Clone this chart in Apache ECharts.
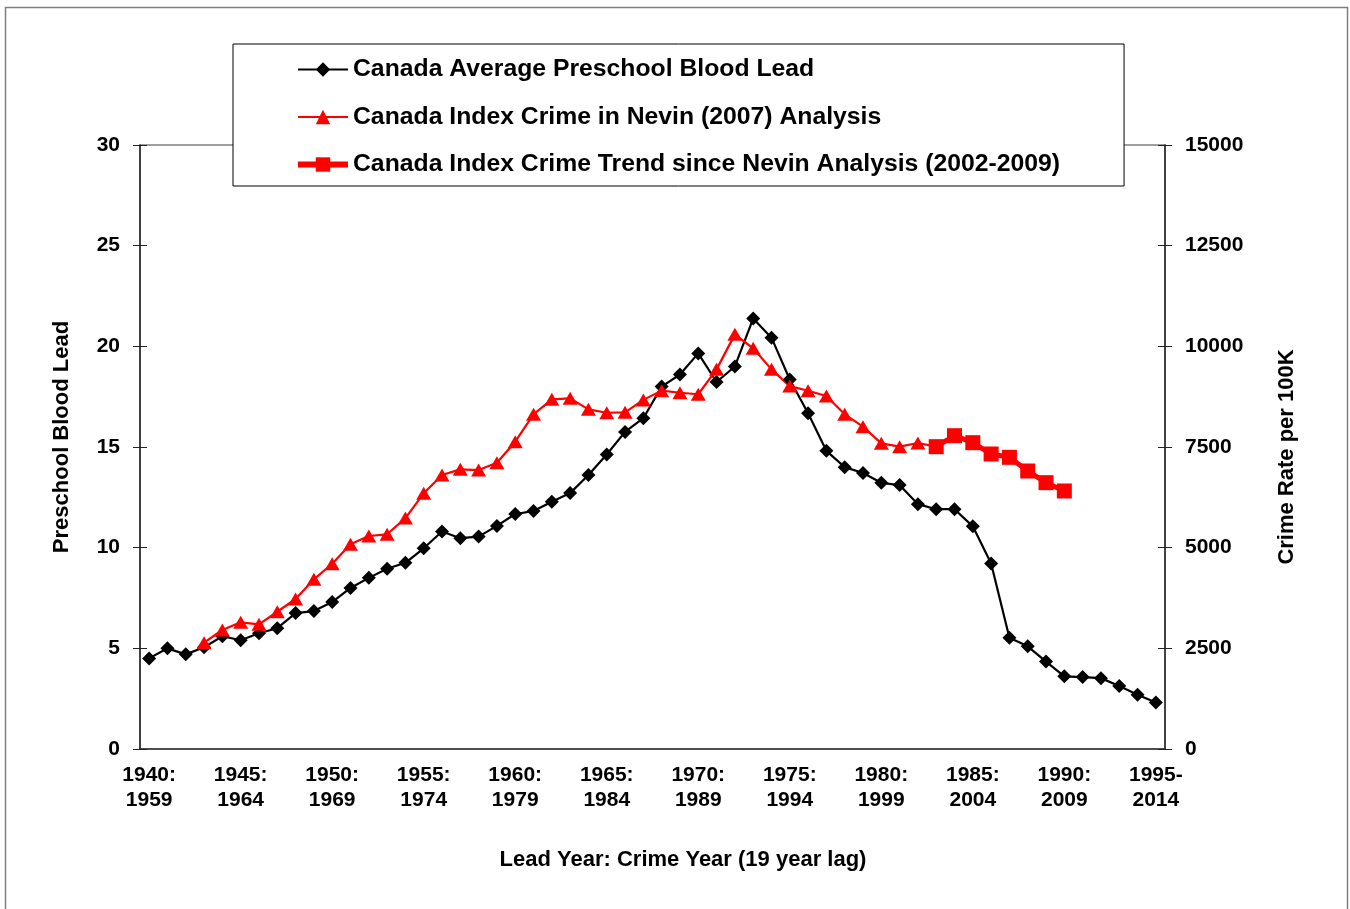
<!DOCTYPE html>
<html>
<head>
<meta charset="utf-8">
<script src="https://cdn.jsdelivr.net/npm/echarts@6/dist/echarts.min.js"></script>
<style>
  html, body { margin: 0; padding: 0; background: #fff; }
  #chart { width: 1350px; height: 909px; }
</style>
</head>
<body>
<div id="chart"></div>
<script>
// lead year (crime year = lead year + 19)
const leadYears = [
  1940, 1941, 1942, 1943, 1944, 1945, 1946, 1947, 1948, 1949,
  1950, 1951, 1952, 1953, 1954, 1955, 1956, 1957, 1958, 1959,
  1960, 1961, 1962, 1963, 1964, 1965, 1966, 1967, 1968, 1969,
  1970, 1971, 1972, 1973, 1974, 1975, 1976, 1977, 1978, 1979,
  1980, 1981, 1982, 1983, 1984, 1985, 1986, 1987, 1988, 1989,
  1990, 1991, 1992, 1993, 1994, 1995
]
// x tick labels, one per 5 years
const tickLabels = {
  1940: '1940:\n1959', 1945: '1945:\n1964', 1950: '1950:\n1969', 1955: '1955:\n1974',
  1960: '1960:\n1979', 1965: '1965:\n1984', 1970: '1970:\n1989', 1975: '1975:\n1994',
  1980: '1980:\n1999', 1985: '1985:\n2004', 1990: '1990:\n2009', 1995: '1995-\n2014'
}
// preschool blood lead (left axis)
const bloodLead = [
  4.5, 5.0, 4.7, 5.05, 5.6, 5.4, 5.75, 6.0, 6.75, 6.85,
  7.3, 8.0, 8.5, 8.95, 9.25, 9.97, 10.8, 10.47, 10.55, 11.08,
  11.67, 11.82, 12.28, 12.71, 13.61, 14.63, 15.75, 16.43, 18.0, 18.6,
  19.65, 18.23, 19.0, 21.38, 20.43, 18.35, 16.68, 14.81, 14.0, 13.71,
  13.22, 13.11, 12.16, 11.91, 11.91, 11.06, 9.21, 5.53, 5.1, 4.34,
  3.61, 3.57, 3.52, 3.13, 2.7, 2.31
]
// index crime, Nevin (2007) analysis, lead years 1943-1982 (right axis)
const crimeNevin = [
  2640, 2955, 3146, 3096, 3409, 3725, 4214,
  4600, 5083, 5290, 5332, 5735, 6349, 6804, 6945, 6928, 7110,
  7631, 8311, 8683, 8708, 8435, 8351, 8360, 8670, 8900, 8847,
  8810, 9428, 10297, 9950, 9428, 9013, 8897, 8765, 8311, 8005,
  7591, 7508, 7600
]
// index crime trend since Nevin analysis, lead years 1983-1990
const crimeTrend = [7508, 7781, 7607, 7326, 7244, 6904, 6614, 6408]

const nevinStart = 1943
const trendStart = 1983

const FONT = 'Liberation Sans'

// build full-length arrays on the category axis
const nevinData = leadYears.map(y => {
  const i = y - nevinStart
  if (i >= 0 && i < crimeNevin.length) return crimeNevin[i]
  // line runs on to the first trend point, without a marker
  if (y === trendStart) return { value: crimeTrend[0], symbol: 'none' }
  return null
})
const trendData = leadYears.map(y => {
  const i = y - trendStart
  return i >= 0 && i < crimeTrend.length ? crimeTrend[i] : null
})

const chart = echarts.init(document.getElementById('chart'))

const labelStyle = { color: '#000', fontFamily: FONT, fontWeight: 'bold', fontSize: 21 }

chart.setOption({
  animation: false,
  backgroundColor: '#fff',
  grid: {
    left: 140, right: 185, top: 145, bottom: 160,
    show: true, borderColor: '#808080', borderWidth: 1.5
  },
  legend: {
    orient: 'vertical',
    left: 233,
    top: 44,
    padding: [13, 64, 9, 62],
    itemWidth: 50,
    itemHeight: 18,
    itemGap: 22.5,
    backgroundColor: '#fff',
    borderColor: '#000',
    borderWidth: 1,
    textStyle: { color: '#000', fontFamily: FONT, fontWeight: 'bold', fontSize: 24.75, lineHeight: 25 },
    data: [
      { name: 'Canada Average Preschool Blood Lead', lineStyle: { width: 2.2 } },
      { name: 'Canada Index Crime in Nevin (2007) Analysis', lineStyle: { width: 2.2 } },
      { name: 'Canada Index Crime Trend since Nevin Analysis (2002-2009)', lineStyle: { width: 6 } }
    ]
  },
  xAxis: [
    {
      type: 'category',
      data: leadYears,
      boundaryGap: true,
      axisLine: { lineStyle: { color: '#333', width: 1.5 } },
      axisTick: { interval: 4, length: 6, lineStyle: { color: '#333' } },
      axisLabel: Object.assign({
        interval: 4,
        margin: 14,
        lineHeight: 25,
        formatter: v => tickLabels[v] || ''
      }, labelStyle)
    },
    {
      // inner half of the crossing ticks
      type: 'category',
      data: leadYears,
      boundaryGap: true,
      position: 'bottom',
      axisLine: { show: false },
      axisTick: { inside: true, interval: 4, length: 6, lineStyle: { color: '#333' } },
      axisLabel: { show: false }
    }
  ],
  yAxis: [
    {
      type: 'value',
      position: 'left',
      min: 0, max: 30, interval: 5,
      splitLine: { show: false },
      axisLine: { show: true, lineStyle: { color: '#222', width: 1.5 } },
      axisTick: { show: true, length: 7, lineStyle: { color: '#222' } },
      axisLabel: Object.assign({ margin: 20 }, labelStyle)
    },
    {
      type: 'value',
      position: 'right',
      min: 0, max: 15000, interval: 2500,
      splitLine: { show: false },
      axisLine: { show: true, lineStyle: { color: '#222', width: 1.5 } },
      axisTick: { show: true, length: 7, lineStyle: { color: '#222' } },
      axisLabel: Object.assign({ margin: 20, formatter: v => String(v) }, labelStyle)
    },
    {
      type: 'value',
      position: 'left',
      min: 0, max: 30, interval: 5,
      splitLine: { show: false },
      axisLine: { show: false },
      axisTick: { show: true, inside: true, length: 7, lineStyle: { color: '#222' } },
      axisLabel: { show: false }
    },
    {
      type: 'value',
      position: 'right',
      min: 0, max: 15000, interval: 2500,
      splitLine: { show: false },
      axisLine: { show: false },
      axisTick: { show: true, inside: true, length: 7, lineStyle: { color: '#222' } },
      axisLabel: { show: false }
    }
  ],
  graphic: [
    {
      type: 'rect',
      shape: { x: 5.5, y: 7.5, width: 1342, height: 930 },
      style: { fill: 'none', stroke: '#7f7f7f', lineWidth: 1.5 },
      z: 0
    },
    {
      type: 'text',
      x: 683, y: 860,
      style: {
        text: 'Lead Year: Crime Year (19 year lag)',
        font: 'bold 22px "Liberation Sans"',
        fill: '#000', textAlign: 'center', textVerticalAlign: 'middle'
      }
    },
    {
      type: 'text',
      x: 62, y: 437,
      rotation: Math.PI / 2,
      style: {
        text: 'Preschool Blood Lead',
        font: 'bold 22px "Liberation Sans"',
        fill: '#000', textAlign: 'center', textVerticalAlign: 'middle'
      }
    },
    {
      type: 'text',
      x: 1287, y: 457,
      rotation: Math.PI / 2,
      style: {
        text: 'Crime Rate per 100K',
        font: 'bold 22px "Liberation Sans"',
        fill: '#000', textAlign: 'center', textVerticalAlign: 'middle'
      }
    }
  ],
  series: [
    {
      name: 'Canada Average Preschool Blood Lead',
      type: 'line',
      yAxisIndex: 0,
      data: bloodLead,
      symbol: 'diamond',
      symbolSize: 14,
      showAllSymbol: true,
      itemStyle: { color: '#000' },
      lineStyle: { color: '#000', width: 2.2 }
    },
    {
      name: 'Canada Index Crime in Nevin (2007) Analysis',
      type: 'line',
      yAxisIndex: 1,
      data: nevinData,
      symbol: 'triangle',
      symbolSize: [15, 13],
      showAllSymbol: true,
      itemStyle: { color: '#ff0000' },
      lineStyle: { color: '#ff0000', width: 2.2 }
    },
    {
      name: 'Canada Index Crime Trend since Nevin Analysis (2002-2009)',
      type: 'line',
      yAxisIndex: 1,
      data: trendData,
      symbol: 'rect',
      symbolSize: 15,
      showAllSymbol: true,
      itemStyle: { color: '#ff0000' },
      lineStyle: { color: '#ff0000', width: 5 }
    }
  ]
})
</script>
</body>
</html>
